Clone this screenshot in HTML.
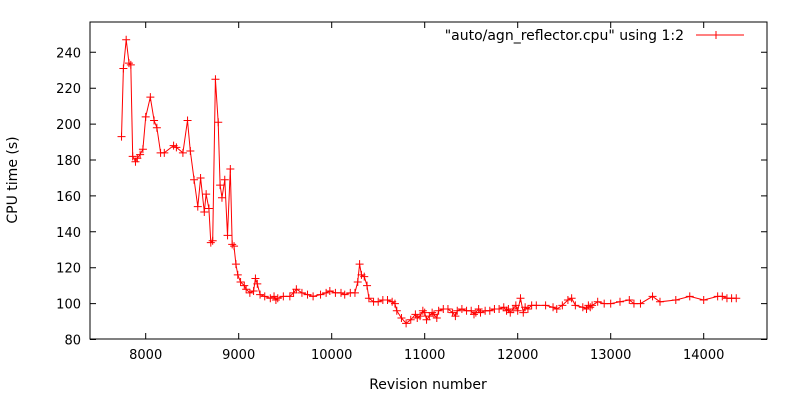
<!DOCTYPE html>
<html><head><meta charset="utf-8"><style>
body{margin:0;background:#fff}
svg{display:block;font-family:"DejaVu Sans","Liberation Sans",sans-serif}
</style></head><body>
<svg id="chart" width="800" height="400" viewBox="0 0 800 400" xmlns="http://www.w3.org/2000/svg">
<rect x="0" y="0" width="800" height="400" fill="#fff"/>
<g id="axes"></g>
<g id="series"></g>
<text x="0" y="0" transform="translate(17,180) rotate(-90)" text-anchor="middle" font-size="14" fill="#000">CPU time (s)</text>
<text x="428" y="389" text-anchor="middle" font-size="14" fill="#000">Revision number</text>
<g>
<text x="684" y="40" text-anchor="end" font-size="14" fill="#000">"auto/agn_reflector.cpu" using 1:2</text>
<line x1="696" y1="35" x2="744" y2="35" stroke="#f00" stroke-width="1"/>
<path d="M716,31V39M712,35H720" stroke="#f00" stroke-width="1"/>
</g>
</svg>
<script>
const revisions=[7740,7760,7790,7820,7840,7860,7890,7910,7940,7970,8000,8050,8090,8120,8160,8200,8300,8330,8400,8450,8480,8520,8560,8590,8630,8650,8680,8700,8720,8750,8780,8800,8820,8850,8880,8910,8930,8950,8970,8990,9020,9060,9080,9120,9160,9180,9200,9230,9280,9340,9380,9400,9420,9480,9550,9590,9620,9680,9740,9800,9880,9940,9980,10040,10100,10140,10200,10250,10280,10300,10320,10350,10380,10400,10450,10500,10550,10600,10650,10680,10700,10750,10800,10850,10900,10920,10950,10980,11000,11020,11050,11080,11100,11130,11150,11200,11250,11300,11330,11350,11400,11450,11500,11530,11550,11580,11600,11650,11700,11750,11800,11850,11880,11900,11920,11950,11980,12000,12030,12060,12080,12110,12150,12200,12300,12380,12420,12480,12540,12580,12620,12700,12740,12760,12780,12800,12860,12930,13000,13100,13200,13250,13320,13450,13530,13700,13850,14000,14150,14200,14250,14300,14350];
const cpuTimes=[193,231,247,234,233,182,179,181,183,186,204,215,202,198,184,184,188,187,184,202,185,169,154,170,151,161,153,134,135,225,201,166,159,169,138,175,133,132,122,116,112,110,108,106,107,114,111,105,104,103,104,102,103,104,104,106,108,106,105,104,105,106,107,106,106,105,106,106,112,122,116,115,110,103,101,101,102,102,101,100,96,92,89,91,94,92,93,96,95,91,93,95,94,92,96,97,97,95,93,96,97,96,96,94,95,97,95,96,96,97,97,98,96,97,95,97,99,96,103,95,98,97,99,99,99,98,97,99,102,103,99,98,97,99,98,99,101,100,100,101,102,100,100,104,101,102,104,102,104,104,103,103,103];
const xTicks=[8000,9000,10000,11000,12000,13000,14000];
const yTicks=[80,100,120,140,160,180,200,220,240];
const L=90,R=767,T=22,B=339;
function xs(v){return 145.7+(v-8000)*0.093;}
function ys(v){return 52.3+(240-v)*1.795;}
const NS="http://www.w3.org/2000/svg";
const axes=document.getElementById('axes');
const ser=document.getElementById('series');
function mk(tag,attrs,parent){const e=document.createElementNS(NS,tag);for(const k in attrs)e.setAttribute(k,attrs[k]);parent.appendChild(e);return e;}
const frame=mk('rect',{x:L,y:T,width:R-L,height:B-T,fill:'none',stroke:'#000','stroke-width':1},axes);


xTicks.forEach(t=>{const x=xs(t);
 const a=mk('path',{d:`M${x},${B}v-6M${x},${T}v6`,stroke:'#000','stroke-width':1},axes);
 
 
 const tx=mk('text',{x:x,y:B+20,'text-anchor':'middle','font-size':13,fill:'#000'},axes);
 tx.textContent=t;
 
 
});
yTicks.forEach(t=>{const y=ys(t);
 const a=mk('path',{d:`M${L},${y}h6M${R},${y}h-6`,stroke:'#000','stroke-width':1},axes);
 
 
 const tx=mk('text',{x:L-9,y:y+5,'text-anchor':'end','font-size':13,fill:'#000'},axes);
 tx.textContent=t;
 
 
});
let d='';
revisions.forEach((r,i)=>{d+=(i?'L':'M')+xs(r).toFixed(1)+','+ys(cpuTimes[i]).toFixed(1);});
const line=mk('path',{d:d,fill:'none',stroke:'#f00','stroke-width':1},ser);


revisions.forEach((r,i)=>{const x=xs(r),y=ys(cpuTimes[i]);
 const p=mk('path',{d:`M${x-4},${y}h8M${x},${y-4}v8`,stroke:'#f00','stroke-width':1},ser);
 
 
});
</script>
</body></html>
